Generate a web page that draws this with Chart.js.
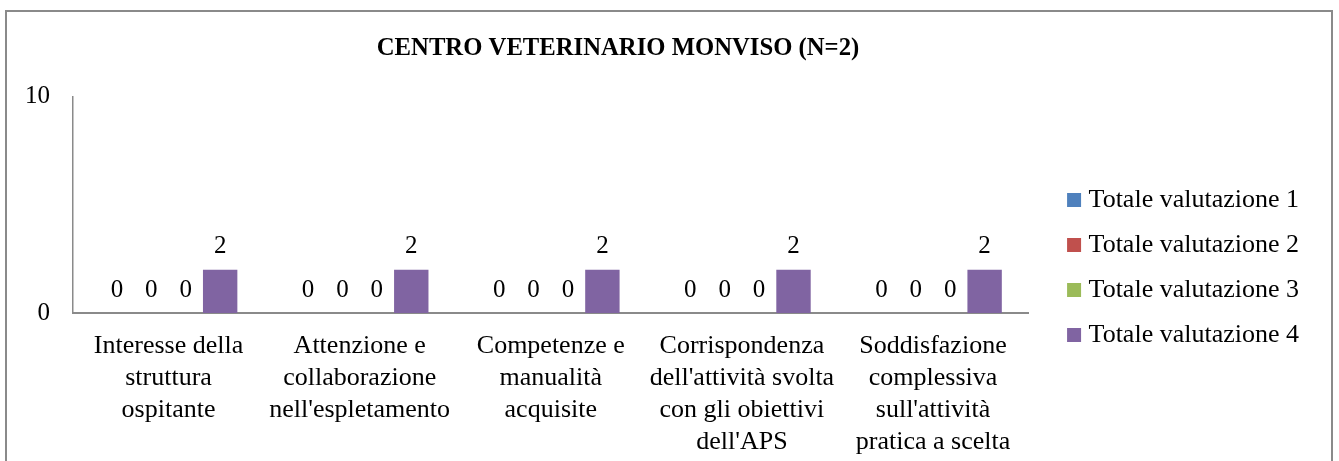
<!DOCTYPE html>
<html>
<head>
<meta charset="utf-8">
<script src="https://cdn.jsdelivr.net/npm/chart.js@4"></script>
<style>
  html, body { margin: 0; padding: 0; background: #fff; overflow: hidden; }
  #box { position: absolute; left: 5px; top: 10px; width: 1324px; height: 511px; border: 2px solid #8a8a8a; }
  canvas { display: block; }
</style>
</head>
<body>
<div id="box"><canvas id="grafico" width="1324" height="511"></canvas></div>
<script>
const categorie = [
    ["Interesse della", "struttura", "ospitante"],
    ["Attenzione e", "collaborazione", "nell'espletamento"],
    ["Competenze e", "manualità", "acquisite"],
    ["Corrispondenza", "dell'attività svolta", "con gli obiettivi", "dell'APS"],
    ["Soddisfazione", "complessiva", "sull'attività", "pratica a scelta"]
];
const valutazione1 = [0, 0, 0, 0, 0];
const valutazione2 = [0, 0, 0, 0, 0];
const valutazione3 = [0, 0, 0, 0, 0];
const valutazione4 = [2, 2, 2, 2, 2];
const nomiSerie = ["Totale valutazione 1", "Totale valutazione 2", "Totale valutazione 3", "Totale valutazione 4"];
const coloriSerie = ["#4f81bd", "#c0504d", "#9bbb59", "#8064a2"];
const tickY = [0, 10];

const font = "Liberation Serif";

// etichette dei valori sopra le barre
const etichette = {
    id: 'etichette',
    afterDatasetsDraw(chart) {
        const ctx = chart.ctx;
        ctx.save();
        ctx.font = '25px "' + font + '"';
        ctx.fillStyle = '#000';
        ctx.textAlign = 'center';
        ctx.textBaseline = 'middle';
        chart.data.datasets.forEach((ds, i) => {
            chart.getDatasetMeta(i).data.forEach((bar, j) => {
                ctx.fillText(ds.data[j], bar.x, bar.y - 23);
            });
        });
        ctx.restore();
    }
};

// il titolo nell'originale non è centrato sulla tela
const spostaTitolo = {
    id: 'spostaTitolo',
    afterLayout(chart) {
        const t = chart.titleBlock;
        if (t) { t.left -= 40; t.right -= 40; }
    }
};

const serie = [valutazione1, valutazione2, valutazione3, valutazione4];

new Chart("grafico", {
    type: "bar",
    data: {
        labels: categorie,
        datasets: serie.map((d, i) => ({
            label: nomiSerie[i],
            data: d,
            backgroundColor: coloriSerie[i],
            borderWidth: 0,
            categoryPercentage: 0.72,
            barPercentage: 1
        }))
    },
    options: {
        responsive: false,
        animation: false,
        events: [],
        layout: { padding: { left: 0, right: 22, top: 0, bottom: 0 } },
        plugins: {
            title: {
                display: true,
                text: "CENTRO VETERINARIO MONVISO (N=2)",
                color: '#000',
                font: { family: font, size: 24.7, weight: 'bold' },
                padding: { top: 22, bottom: 33 }
            },
            legend: {
                position: 'right',
                maxWidth: 400,
                labels: {
                    usePointStyle: true,
                    pointStyle: 'rect',
                    boxWidth: 3,
                    boxHeight: 14,
                    padding: 19,
                    color: '#000',
                    font: { family: font, size: 26 }
                }
            },
            tooltip: { enabled: false }
        },
        scales: {
            x: {
                grid: { display: false, drawTicks: false },
                border: { display: true, color: '#8a8a8a', width: 2 },
                ticks: {
                    color: '#000',
                    padding: 17,
                    maxRotation: 0,
                    autoSkip: false,
                    font: { family: font, size: 26, lineHeight: 1.23 }
                },
                afterFit(s) { s.height = 210; }
            },
            y: {
                min: tickY[0],
                max: tickY[tickY.length - 1],
                grid: { display: false, drawTicks: false },
                border: { display: true, color: '#8a8a8a', width: 1.5 },
                ticks: {
                    color: '#000',
                    padding: 23,
                    font: { family: font, size: 25 }
                },
                afterBuildTicks(s) { s.ticks = tickY.map(v => ({ value: v })); },
                afterFit(s) { s.width = 66; }
            },
            spazio: {
                type: 'linear',
                position: 'right',
                display: true,
                grid: { display: false, drawTicks: false },
                border: { display: false },
                ticks: { display: false },
                afterFit(s) { s.width = 25; }
            }
        }
    },
    plugins: [etichette, spostaTitolo]
});
</script>
</body>
</html>
